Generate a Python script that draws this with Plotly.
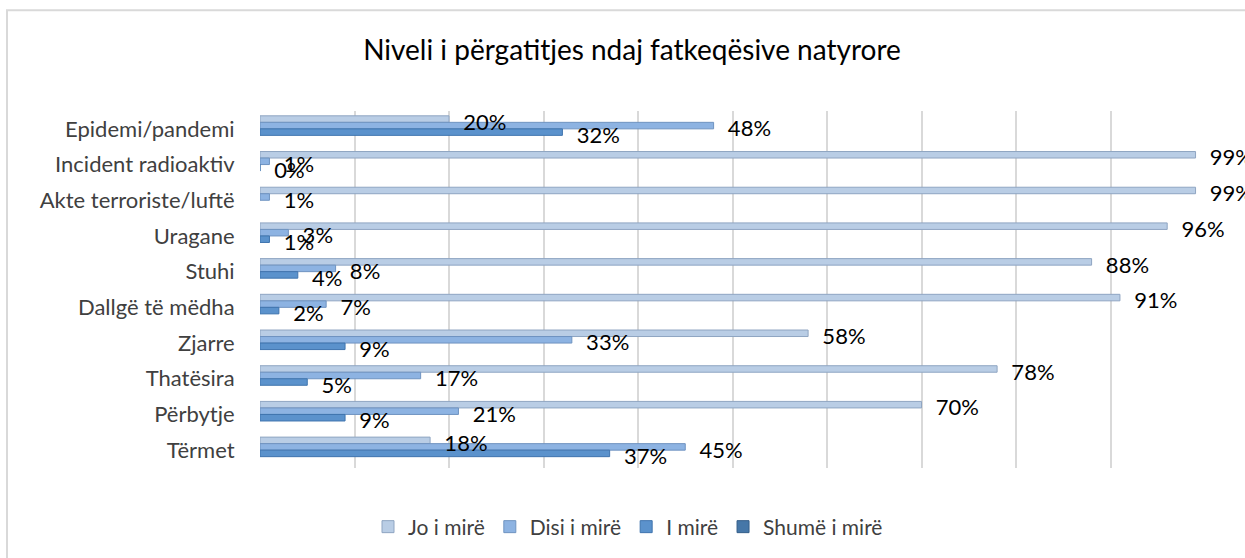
import plotly.graph_objects as go

categories = ["Epidemi/pandemi", "Incident radioaktiv", "Akte terroriste/luftë", "Uragane",
              "Stuhi", "Dallgë të mëdha", "Zjarre", "Thatësira", "Përbytje", "Tërmet"]
series_names = ["Jo i mirë", "Disi i mirë", "I mirë", "Shumë i mirë"]
jo_i_mire = [0.20, 0.99, 0.99, 0.96, 0.88, 0.91, 0.58, 0.78, 0.70, 0.18]
disi_i_mire = [0.48, 0.01, 0.01, 0.03, 0.08, 0.07, 0.33, 0.17, 0.21, 0.45]
i_mire = [0.32, 0.00, None, 0.01, 0.04, 0.02, 0.09, 0.05, 0.09, 0.37]
shume_i_mire = [None] * 10
values = [jo_i_mire, disi_i_mire, i_mire, shume_i_mire]

colors = ["#B9CDE5", "#8DB3E2", "#5B92CC", "#4677A8"]
edges = ["#8FA5C2", "#6F93C0", "#3F74AE", "#355F8A"]

W, H = 1245, 558
ml, mr, mt, mb = 260, 40, 111, 89
pw, ph = W - ml - mr, H - mt - mb

gap = 0.27
slot = (1 - gap) / len(series_names)
text_shift = 0.06

fig = go.Figure()
# bars
for i, (name, vals, c, e) in enumerate(zip(series_names, values, colors, edges)):
    fig.add_trace(go.Bar(
        y=categories, x=vals, name=name, orientation="h",
        width=slot, offset=-(1 - gap) / 2 + i * slot,
        marker=dict(color=c, line=dict(color=e, width=1)),
        hovertemplate="%{y}: %{x:.0%}<extra>" + name + "</extra>",
    ))
# data labels drawn above all bars
for i, (name, vals) in enumerate(zip(series_names, values)):
    fig.add_trace(go.Bar(
        y=categories, x=vals, name=name, orientation="h", showlegend=False,
        width=slot, offset=-(1 - gap) / 2 + i * slot + text_shift,
        marker=dict(color="rgba(0,0,0,0)", line=dict(width=0)),
        texttemplate="\u00a0\u00a0%{x:.0%}", textposition="outside",
        textfont=dict(family="Lato", size=22, color="#000000"),
        constraintext="none", cliponaxis=False, hoverinfo="skip",
    ))

def px_x(p):
    return (p - ml) / pw

def px_y(p):
    return (H - mb - p) / ph

fig.update_layout(
    width=W, height=H,
    margin=dict(l=ml, r=mr, t=mt, b=mb),
    barmode="overlay",
    plot_bgcolor="white", paper_bgcolor="white",
    font=dict(family="Lato", size=22, color="#404040"),
    title=dict(text="Niveli i përgatitjes ndaj fatkeqësive natyrore",
               x=632 / W, xanchor="center", y=1 - 50 / H, yanchor="middle",
               font=dict(family="Lato", size=28, color="#000000")),
    xaxis=dict(range=[0, 1], dtick=0.1, showticklabels=False, showgrid=True,
               gridcolor="#D9D9D9", gridwidth=2, zeroline=False, showline=False, fixedrange=True),
    yaxis=dict(autorange="reversed", showgrid=False, ticks="outside", ticklen=20,
               tickcolor="rgba(0,0,0,0)", tickfont=dict(family="Lato", size=22, color="#404040"),
               showline=False),
    legend=dict(orientation="h", x=px_x(628), xanchor="center", y=px_y(527), yanchor="middle",
                font=dict(family="Lato", size=21, color="#404040"), traceorder="normal"),
    showlegend=True,
    shapes=[dict(type="rect", xref="paper", yref="paper",
                 x0=px_x(7), x1=px_x(1252), y0=px_y(566), y1=px_y(10),
                 line=dict(color="#D9D9D9", width=2), fillcolor="rgba(0,0,0,0)", layer="below")],
)

fig.write_html("out.html", config={"displayModeBar": False},
               post_script="document.body.style.margin='0';")
